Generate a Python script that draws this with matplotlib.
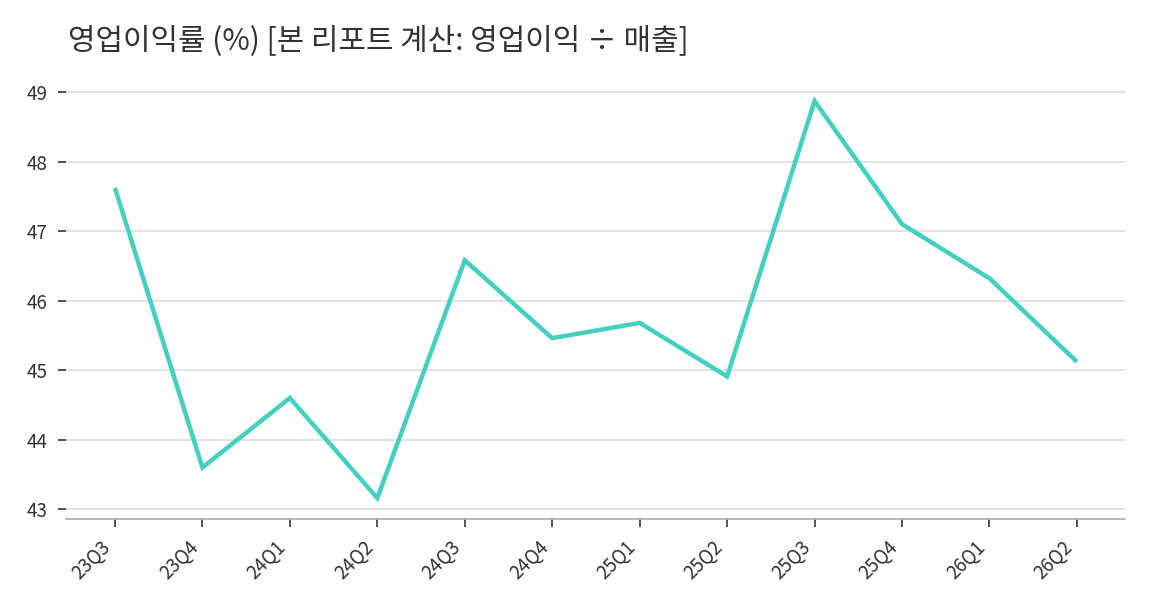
import matplotlib
matplotlib.use("Agg")
import matplotlib.pyplot as plt

plt.rcParams['font.family'] = ['Noto Sans CJK KR', 'DejaVu Sans']

quarters = ["23Q3", "23Q4", "24Q1", "24Q2", "24Q3", "24Q4", "25Q1", "25Q2", "25Q3", "25Q4", "26Q1", "26Q2"]
margin = [47.62, 43.60, 44.60, 43.16, 46.58, 45.46, 45.68, 44.91, 48.87, 47.10, 46.32, 45.12]
yticks = [43, 44, 45, 46, 47, 48, 49]
title = "영업이익률 (%) [본 리포트 계산: 영업이익 ÷ 매출]"

fig = plt.figure(figsize=(11.52, 6.12), dpi=100)
ax = fig.add_axes([0.0573, 0.152, 0.9193, 0.709])
x = list(range(len(quarters)))
ax.plot(x, margin, color="#43d0be", lw=3.2, solid_capstyle="butt",
        solid_joinstyle="miter", zorder=3)
ax.set_xlim(-0.56, 11.55)
ax.set_ylim(42.86, 49.1)
ax.set_yticks(yticks)
ax.set_xticks(x)
ax.set_xticklabels(quarters, rotation=45, ha="right")
ax.grid(axis="y", color="#dddddd", lw=1.2, zorder=0)
for s in ["top", "right", "left"]:
    ax.spines[s].set_visible(False)
ax.spines["bottom"].set_color("#aaaaaa")
ax.spines["bottom"].set_linewidth(1.2)
ax.tick_params(axis="both", colors="#333333", labelsize=13.5, length=5.5, width=1.2)
ax.tick_params(axis="y", pad=8)
ax.tick_params(axis="x", pad=7)
fig.text(0.059, 0.933, title, fontsize=21.5, color="#333333", ha="left", va="center")
fig.savefig("out.png", dpi=100)
